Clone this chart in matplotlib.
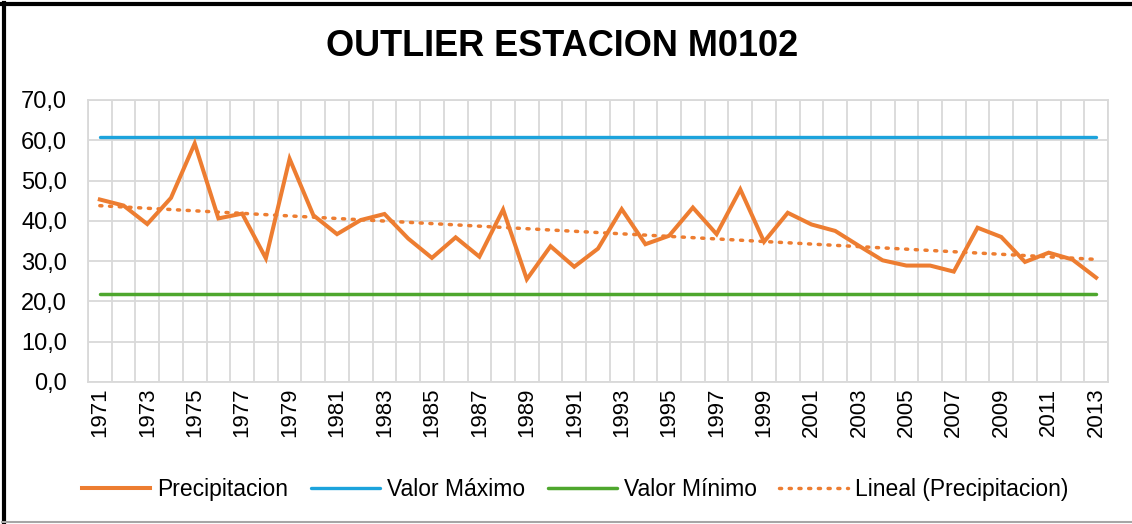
import matplotlib
matplotlib.use("Agg")
import matplotlib.pyplot as plt
from matplotlib.lines import Line2D
from matplotlib.ticker import FuncFormatter, FixedLocator
import numpy as np

plt.rcParams["font.family"] = ["Liberation Sans", "DejaVu Sans"]

# ---------------------------------------------------------------------------
# Datos
# ---------------------------------------------------------------------------
years = list(range(1971, 2014))
precipitacion = [
    45.3, 43.8, 39.2, 45.7, 59.2, 40.6, 41.8, 30.7, 55.4, 41.4,
    36.7, 40.2, 41.7, 35.6, 30.8, 35.9, 31.1, 42.8, 25.5, 33.7,
    28.6, 33.1, 42.9, 34.2, 36.3, 43.3, 36.7, 47.8, 34.8, 42.0,
    39.1, 37.5, 33.8, 30.2, 28.9, 28.9, 27.4, 38.3, 36.0, 29.8,
    32.1, 30.4, 25.9,
]
valor_maximo = 60.7
valor_minimo = 21.9

# Colores
C_PREC = "#ED7D31"
C_MAX = "#1CA3DC"
C_MIN = "#4EA72E"
C_GRID = "#D9D9D9"

x = np.arange(len(years))

# Tendencia lineal (mínimos cuadrados) sobre la serie
coef = np.polyfit(x, precipitacion, 1)
tendencia = np.polyval(coef, x)

fig = plt.figure(figsize=(11.32, 5.24), dpi=100)
ax = fig.add_axes([0.0777, 0.271, 0.9011, 0.5382])

ax.plot(x, precipitacion, color=C_PREC, lw=2.9, solid_joinstyle="miter",
        label="Precipitacion", zorder=4)
ax.plot(x, [valor_maximo] * len(x), color=C_MAX, lw=2.4,
        solid_capstyle="round", label="Valor Máximo", zorder=3)
ax.plot(x, [valor_minimo] * len(x), color=C_MIN, lw=2.5,
        solid_capstyle="round", label="Valor Mínimo", zorder=3)
ax.plot(x, tendencia, color=C_PREC, lw=2.5, ls=(0, (0.6, 2.2)),
        dash_capstyle="round", label="Lineal (Precipitacion)", zorder=3)

# Ejes
ax.set_xlim(-0.5, len(years) - 0.5)
ax.set_ylim(0, 70)
ax.set_yticks(np.arange(0, 71, 10))
ax.yaxis.set_major_formatter(FuncFormatter(lambda v, p: f"{v:.1f}".replace(".", ",")))

ax.xaxis.set_major_locator(FixedLocator(x[::2]))
ax.set_xticklabels([str(y) for y in years[::2]], rotation=90)
ax.xaxis.set_minor_locator(FixedLocator(np.arange(-0.5, len(years), 1.0)))

ax.grid(axis="y", which="major", color=C_GRID, lw=1.3, zorder=0)
ax.grid(axis="x", which="minor", color=C_GRID, lw=1.3, zorder=0)
ax.set_axisbelow(True)
for s in ax.spines.values():
    s.set_color(C_GRID)
    s.set_linewidth(1.3)

ax.tick_params(axis="y", length=0, pad=15, labelsize=17)
ax.tick_params(axis="x", which="both", length=0, pad=4, labelsize=16)

fig.text(0.4965, 0.912, "OUTLIER ESTACION M0102", ha="center", va="center",
         fontsize=26, fontweight="bold")

fig.legend(loc="center", bbox_to_anchor=(0.508, 0.066), ncol=4, frameon=False,
           fontsize=16.5, handlelength=3.0, handletextpad=0.3, columnspacing=1.0)

# Marco del área del gráfico
fig.add_artist(Line2D([4 / 1132, 4 / 1132], [1 - 3 / 524, 1 - 522 / 524],
                      transform=fig.transFigure, color="black", lw=3))
fig.add_artist(Line2D([2 / 1132, 1], [1 - 4 / 524, 1 - 4 / 524],
                      transform=fig.transFigure, color="black", lw=3))
fig.add_artist(Line2D([2 / 1132, 1], [1 - 522 / 524, 1 - 522 / 524],
                      transform=fig.transFigure, color="#A6A6A6", lw=1.5))

fig.savefig("out.png", dpi=100)
